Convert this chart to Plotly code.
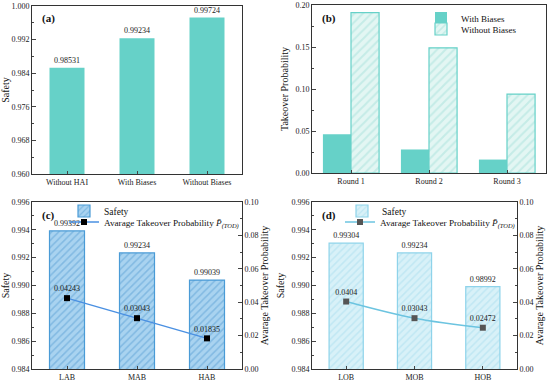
import plotly.graph_objects as go

# ---- data ----
a_cats = ["Without HAI", "With Biases", "Without Biases"]
a_safety = [0.98531, 0.99234, 0.99724]

b_rounds = ["Round 1", "Round 2", "Round 3"]
b_with = [0.046, 0.028, 0.016]
b_without = [0.191, 0.149, 0.094]

c_cats = ["LAB", "MAB", "HAB"]
c_safety = [0.99392, 0.99234, 0.99039]
c_takeover = [0.04243, 0.03043, 0.01835]

d_cats = ["LOB", "MOB", "HOB"]
d_safety = [0.99304, 0.99234, 0.98992]
d_takeover = [0.0404, 0.03043, 0.02472]

FONT = "Liberation Serif"
TEAL = "#66D1C8"
LEG_NAME = "Avarage Takeover Probability <i>P̄</i><sub><i>(TOD)</i></sub>"
LBL = dict(size=8, color="#1a1a1a", family=FONT)

fig = go.Figure()

# (a)
fig.add_trace(go.Bar(x=a_cats, y=a_safety, marker=dict(color=TEAL, line=dict(width=0)),
                     width=0.5, text=[f"{v:.5f}" for v in a_safety], textposition="outside",
                     outsidetextfont=LBL, cliponaxis=False,
                     xaxis="x", yaxis="y", showlegend=False))

# (b)
fig.add_trace(go.Bar(x=b_rounds, y=b_with, name="With Biases",
                     marker=dict(color=TEAL, line=dict(width=0)),
                     xaxis="x2", yaxis="y2", legend="legend", offsetgroup="w"))
fig.add_trace(go.Bar(x=b_rounds, y=b_without, name="Without Biases",
                     marker=dict(color="#DDF4F1", line=dict(color=TEAL, width=1.2),
                                 pattern=dict(shape="/", fgcolor="#A8E2DC", bgcolor="#E3F6F3",
                                              size=6, solidity=0.35)),
                     xaxis="x2", yaxis="y2", legend="legend2", offsetgroup="wo"))

# (c)
fig.add_trace(go.Bar(x=c_cats, y=c_safety, name="Safety", width=0.5,
                     marker=dict(color="#A9D3F0", line=dict(color="#4A9BD6", width=1.2),
                                 pattern=dict(shape="/", fgcolor="#5A9FD4", bgcolor="#A9D3F0",
                                              size=5, solidity=0.3)),
                     text=[f"{v:.5f}" for v in c_safety], textposition="outside",
                     outsidetextfont=LBL, cliponaxis=False,
                     xaxis="x3", yaxis="y3", legend="legend3"))
fig.add_trace(go.Scatter(x=c_cats, y=c_takeover, mode="lines+markers+text",
                         name=LEG_NAME,
                         line=dict(color="#4A90E2", width=1.5),
                         marker=dict(symbol="square", size=6, color="black"),
                         text=[str(v) for v in c_takeover], textposition="top center",
                         textfont=LBL,
                         xaxis="x3", yaxis="y5", legend="legend4"))

# (d)
fig.add_trace(go.Bar(x=d_cats, y=d_safety, name="Safety", width=0.5,
                     marker=dict(color="#D5F0F8", line=dict(color="#8ED3EA", width=1.2),
                                 pattern=dict(shape="/", fgcolor="#A8DDEE", bgcolor="#D8F1F8",
                                              size=5, solidity=0.3)),
                     text=[f"{v:.5f}" for v in d_safety], textposition="outside",
                     outsidetextfont=LBL, cliponaxis=False,
                     xaxis="x4", yaxis="y4", legend="legend5"))
fig.add_trace(go.Scatter(x=d_cats, y=d_takeover, mode="lines+markers+text",
                         name=LEG_NAME,
                         line=dict(color="#6CC4E0", width=1.5, shape="spline"),
                         marker=dict(symbol="square", size=6, color="#555555"),
                         text=[str(v) for v in d_takeover], textposition="top center",
                         textfont=LBL,
                         xaxis="x4", yaxis="y6", legend="legend6"))

W, H = 550, 383
def xd(l, r): return [l / W, r / W]
def yd(t, b): return [1 - b / H, 1 - t / H]

tickf = dict(family=FONT, size=8, color="#222")
titf = dict(family=FONT, size=10, color="#111")

def xax(dom, anchor):
    return dict(domain=dom, anchor=anchor, showline=True, linecolor="#333", linewidth=1,
                mirror=True, ticks="inside", ticklen=3, tickfont=tickf, showgrid=False,
                automargin=False)

def yax(dom, anchor, rng, dtick, title, side="left", overlaying=None, fmt=None, standoff=4):
    d = dict(domain=dom, anchor=anchor, range=rng, dtick=dtick, tick0=rng[0], showline=True,
             linecolor="#333", linewidth=1, ticks="inside", ticklen=4, tickfont=tickf,
             showgrid=False, zeroline=False, side=side, automargin=False,
             title=dict(text=title, font=titf, standoff=standoff),
             minor=dict(ticks="inside", ticklen=2, dtick=dtick / 2, tick0=rng[0]))
    if fmt:
        d["tickformat"] = fmt
    if overlaying:
        d["overlaying"] = overlaying
    else:
        d["mirror"] = True
    return d

def leg(x, y, size):
    return dict(x=x / W, y=1 - y / H, xanchor="left", yanchor="middle",
                bgcolor="rgba(0,0,0,0)", font=dict(family=FONT, size=size, color="#111"),
                tracegroupgap=0, itemwidth=30, borderwidth=0)

fig.update_layout(
    width=W, height=H, margin=dict(l=0, r=0, t=0, b=0, autoexpand=False),
    paper_bgcolor="white", plot_bgcolor="white",
    font=dict(family=FONT, size=10, color="#222"),
    barmode="group", bargap=0.28, bargroupgap=0,
    xaxis=xax(xd(32, 242), "y"),
    yaxis=yax(yd(6, 174), "x", [0.960, 1.000], 0.008, "Safety", fmt=".3f"),
    xaxis2=xax(xd(312, 546), "y2"),
    yaxis2=yax(yd(5, 173), "x2", [0, 0.20], 0.05, "Takeover Probability", fmt=".2f"),
    xaxis3=xax(xd(32, 242), "y3"),
    yaxis3=yax(yd(202, 369), "x3", [0.984, 0.996], 0.002, "Safety", fmt=".3f"),
    yaxis5=yax(yd(202, 369), "x3", [0, 0.10], 0.02, "Avarage Takeover Probability",
               side="right", overlaying="y3", fmt=".2f", standoff=3),
    xaxis4=xax(xd(312, 517), "y4"),
    yaxis4=yax(yd(202, 369), "x4", [0.984, 0.996], 0.002, "Safety", fmt=".3f"),
    yaxis6=yax(yd(202, 369), "x4", [0, 0.10], 0.02, "Avarage Takeover Probability",
               side="right", overlaying="y4", fmt=".2f", standoff=3),
    legend=leg(421, 18, 9),
    legend2=leg(421, 29, 9),
    legend3=leg(64, 211, 9.5),
    legend4=leg(64, 222, 9.2),
    legend5=leg(342, 211, 9.5),
    legend6=leg(340, 222, 9.2),
)

labels = [("(a)", 40, 10), ("(b)", 320, 10), ("(c)", 40, 207), ("(d)", 320, 207)]
for t, x, y in labels:
    fig.add_annotation(text=f"<b>{t}</b>", x=x / W, y=1 - y / H, xref="paper", yref="paper",
                       xanchor="left", yanchor="top", showarrow=False,
                       font=dict(family=FONT, size=11, color="#111"))

fig.write_html("out.html", config={"displayModeBar": False},
               post_script="document.body.style.margin='0';")
